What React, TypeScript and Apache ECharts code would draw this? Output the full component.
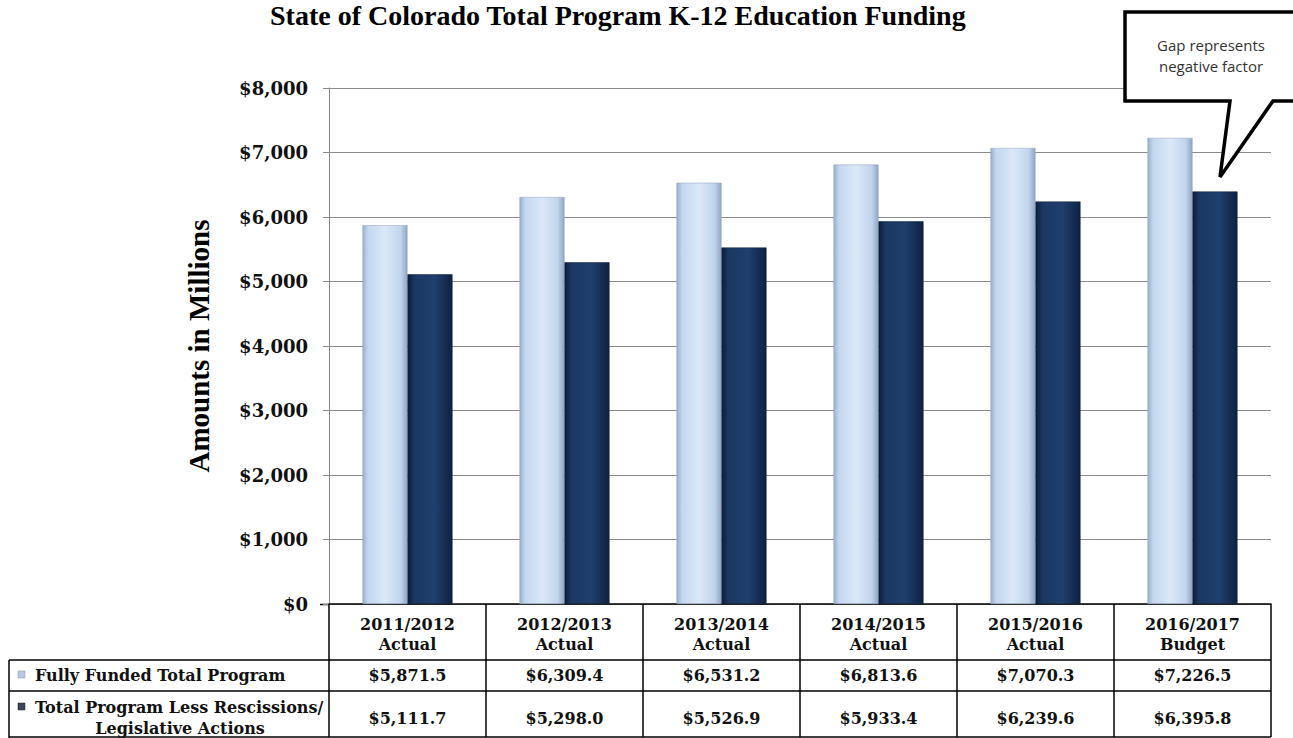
import React, { useEffect, useRef } from "react";
import * as echarts from "echarts";

const title = "State of Colorado Total Program K-12 Education Funding";
const yAxisName = "Amounts in Millions";
const fiscalYears = ["2011/2012", "2012/2013", "2013/2014", "2014/2015", "2015/2016", "2016/2017"];
const yearTypes = ["Actual", "Actual", "Actual", "Actual", "Actual", "Budget"];
const fullyFunded = [5871.5, 6309.4, 6531.2, 6813.6, 7070.3, 7226.5];
const lessRescissions = [5111.7, 5298.0, 5526.9, 5933.4, 6239.6, 6395.8];
const seriesNames = ["Fully Funded Total Program", "Total Program Less Rescissions/ Legislative Actions"];
const seriesLabelLines = [["Fully Funded Total Program"], ["Total Program Less Rescissions/", "Legislative Actions"]];
const yMin = 0;
const yMax = 8000;
const yInterval = 1000;
const calloutText = "Gap represents\nnegative factor";

const GEO = "'DejaVu Serif', Georgia, serif";
const TIMES = "'Liberation Serif', 'Times New Roman', serif";

const money = (v: number) =>
  "$" + v.toLocaleString("en-US", { minimumFractionDigits: 1, maximumFractionDigits: 1 });

export default function App() {
  const ref = useRef<HTMLDivElement>(null);

  useEffect(() => {
    if (!ref.current) return;
    const chart = echarts.init(ref.current, undefined, { renderer: "svg" });

    const lightFill = new echarts.graphic.LinearGradient(0, 0, 1, 0, [
      { offset: 0, color: "#98afce" },
      { offset: 0.12, color: "#c4d7ef" },
      { offset: 0.5, color: "#dbe8f8" },
      { offset: 0.85, color: "#c2d5ed" },
      { offset: 1, color: "#8ea5c3" },
    ]);
    const darkFill = new echarts.graphic.LinearGradient(0, 0, 1, 0, [
      { offset: 0, color: "#0d1d3a" },
      { offset: 0.15, color: "#1b3863" },
      { offset: 0.6, color: "#1f3f6d" },
      { offset: 1, color: "#0e2142" },
    ]);

    const labelBase = {
      fontFamily: GEO,
      fontWeight: "bold" as const,
      color: "#111",
    };

    const legendText = (text: string, x: number, y: number, align: string) => ({
      type: "text",
      x,
      y,
      style: { text, fontFamily: GEO, fontWeight: "bold", fontSize: 16, fill: "#111", verticalAlign: "middle", align },
    });

    const option: any = {
      animation: false,
      backgroundColor: "#ffffff",
      title: {
        text: title,
        left: 270,
        top: 1,
        padding: 0,
        textStyle: { fontFamily: TIMES, fontWeight: "bold", fontSize: 28, color: "#000" },
      },
      grid: {
        left: 329,
        right: 22,
        top: 88,
        bottom: 134,
        containLabel: false,
        outerBoundsMode: "none",
      },
      xAxis: [
        {
          type: "category",
          data: fiscalYears.map((y, i) => y + "\n" + yearTypes[i]),
          axisLine: { show: true, lineStyle: { color: "#000", width: 1.5 } },
          axisTick: { show: true, length: 133, lineStyle: { color: "#000", width: 1.5 } },
          axisLabel: { ...labelBase, fontSize: 16, lineHeight: 20, margin: 30, verticalAlign: "middle" },
        },
        {
          type: "category",
          position: "bottom",
          offset: 71,
          data: fullyFunded.map(money),
          axisLine: { show: false },
          axisTick: { show: false },
          axisLabel: { ...labelBase, fontSize: 16, margin: 0, verticalAlign: "middle" },
        },
        {
          type: "category",
          position: "bottom",
          offset: 114,
          data: lessRescissions.map(money),
          axisLine: { show: false },
          axisTick: { show: false },
          axisLabel: { ...labelBase, fontSize: 16, margin: 0, verticalAlign: "middle" },
        },
      ],
      yAxis: {
        type: "value",
        min: yMin,
        max: yMax,
        interval: yInterval,
        name: yAxisName,
        nameLocation: "middle",
        nameRotate: 90,
        nameGap: 116,
        nameTextStyle: { fontFamily: TIMES, fontWeight: "bold", fontSize: 29, color: "#000" },
        axisLine: { show: true, lineStyle: { color: "#868686", width: 1 } },
        axisTick: { show: true, length: 6, lineStyle: { color: "#868686" } },
        splitLine: { show: true, lineStyle: { color: "#8c8c8c", width: 1 } },
        axisLabel: {
          ...labelBase,
          fontSize: 18,
          margin: 21,
          formatter: (v: number) => "$" + v.toLocaleString("en-US"),
        },
      },
      series: [
        {
          name: seriesNames[0],
          type: "bar",
          xAxisIndex: 0,
          data: fullyFunded,
          barWidth: 45,
          barGap: "0%",
          itemStyle: { color: lightFill, borderColor: "#8ea3bf", borderWidth: 0.5 },
        },
        {
          name: seriesNames[1],
          type: "bar",
          xAxisIndex: 0,
          data: lessRescissions,
          barWidth: 45,
          barGap: "0%",
          itemStyle: { color: darkFill, borderColor: "#0b1a33", borderWidth: 0.5 },
        },
      ],
      graphic: [
        // table row lines
        { type: "line", shape: { x1: 9, y1: 660, x2: 1271, y2: 660 }, style: { stroke: "#000", lineWidth: 1.5 } },
        { type: "line", shape: { x1: 9, y1: 691, x2: 1271, y2: 691 }, style: { stroke: "#000", lineWidth: 1.5 } },
        { type: "line", shape: { x1: 9, y1: 737, x2: 1271, y2: 737 }, style: { stroke: "#000", lineWidth: 1.5 } },
        { type: "line", shape: { x1: 9, y1: 660, x2: 9, y2: 738 }, style: { stroke: "#000", lineWidth: 1.5 } },
        { type: "line", shape: { x1: 320, y1: 604.5, x2: 329, y2: 604.5 }, style: { stroke: "#000", lineWidth: 1.5 } },
        // legend keys
        { type: "rect", shape: { x: 18, y: 671, width: 7, height: 7 }, style: { fill: "#b9c8dc", stroke: "#8a9ab0", lineWidth: 0.5 } },
        { type: "rect", shape: { x: 18, y: 703, width: 7, height: 7 }, style: { fill: "#3b4658", stroke: "#222", lineWidth: 0.5 } },
        legendText(seriesLabelLines[0][0], 35, 675, "left"),
        legendText(seriesLabelLines[1][0], 35, 707, "left"),
        legendText(seriesLabelLines[1][1], 180, 728, "center"),
        // callout
        {
          type: "polygon",
          z: 100,
          shape: {
            points: [
              [1125, 12],
              [1300, 12],
              [1300, 101],
              [1273, 101],
              [1220, 177],
              [1230, 101],
              [1125, 101],
            ],
          },
          style: { fill: "#ffffff", stroke: "#000", lineWidth: 3.5, lineJoin: "miter" },
        },
        {
          type: "text",
          z: 101,
          x: 1211,
          y: 55,
          style: {
            text: calloutText,
            fontFamily: "'Open Sans', 'Liberation Sans', sans-serif",
            fontSize: 15,
            lineHeight: 21,
            fill: "#333",
            align: "center",
            verticalAlign: "middle",
          },
        },
      ],
    };

    chart.setOption(option);
    return () => chart.dispose();
  }, []);

  return (
    <div
      ref={ref}
      style={{ position: "fixed", left: 0, top: 0, width: 1293, height: 738, background: "#fff" }}
    />
  );
}
